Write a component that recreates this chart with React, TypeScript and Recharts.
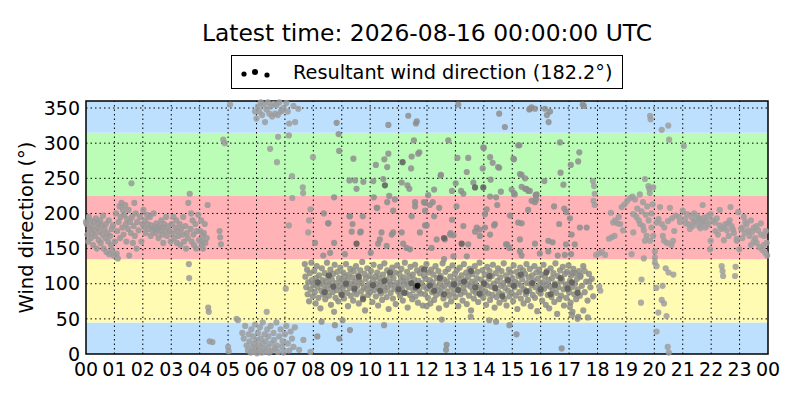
import React from "react"
import { ScatterChart, Scatter, XAxis, YAxis, ReferenceArea, ReferenceLine } from "recharts"

// hour of day (UTC) and wind direction (degrees) for every observation
const NIGHT_OBS: [number, number][] = [
  [0.0, 188], [0.02, 185], [0.05, 170], [0.08, 160], [0.1, 195], [0.12, 178], [0.15, 190], [0.18, 165],
  [0.2, 182], [0.22, 172], [0.25, 155], [0.28, 188], [0.3, 176], [0.33, 168], [0.35, 193], [0.38, 150],
  [0.4, 180], [0.42, 186], [0.45, 162], [0.48, 174], [0.5, 190], [0.52, 158], [0.55, 183], [0.58, 170],
  [0.6, 197], [0.62, 150], [0.65, 178], [0.68, 165], [0.7, 185], [0.72, 145], [0.75, 172], [0.78, 160],
  [0.8, 190], [0.82, 142], [0.85, 168], [0.88, 155], [0.9, 178], [0.92, 148], [0.95, 183], [0.98, 140],
  [1.02, 160], [1.05, 200], [1.08, 143], [1.1, 175], [1.12, 136], [1.15, 188], [1.18, 210], [1.2, 165],
  [1.22, 195], [1.25, 215], [1.28, 180], [1.3, 205], [1.32, 170], [1.35, 198], [1.38, 212], [1.4, 185],
  [1.42, 160], [1.45, 192], [1.48, 178], [1.5, 205], [1.52, 140], [1.55, 188], [1.58, 172], [1.6, 243],
  [1.62, 195], [1.65, 158], [1.68, 182], [1.7, 215], [1.72, 168], [1.75, 200], [1.78, 150], [1.8, 188],
  [1.85, 176], [1.9, 195], [1.95, 160], [1.98, 185], [2.02, 205], [2.05, 180], [2.08, 190], [2.1, 172],
  [2.15, 198], [2.18, 185], [2.2, 178], [2.25, 195], [2.28, 168], [2.3, 183], [2.35, 175], [2.38, 200],
  [2.4, 180], [2.45, 172], [2.48, 186], [2.5, 178], [2.55, 165], [2.58, 182], [2.6, 175], [2.65, 190],
  [2.68, 170], [2.7, 180], [2.72, 158], [2.75, 185], [2.8, 176], [2.82, 195], [2.85, 168], [2.9, 182],
  [2.95, 175], [2.98, 160], [3.02, 185], [3.05, 172], [3.08, 195], [3.1, 165], [3.15, 180], [3.18, 190],
  [3.2, 158], [3.22, 175], [3.25, 168], [3.3, 185], [3.32, 155], [3.35, 178], [3.4, 170], [3.42, 195],
  [3.45, 160], [3.5, 182], [3.52, 150], [3.55, 172], [3.58, 165], [3.6, 215], [3.62, 128], [3.63, 108],
  [3.65, 228], [3.68, 178], [3.7, 200], [3.72, 160], [3.75, 190], [3.78, 170], [3.8, 155], [3.85, 185],
  [3.88, 150], [3.9, 175], [3.95, 198], [3.98, 162], [4.02, 175], [4.05, 190], [4.07, 155], [4.08, 160],
  [4.1, 168], [4.12, 150], [4.15, 172], [4.18, 185], [4.2, 158], [4.25, 165], [4.28, 212], [4.3, 66],
  [4.32, 60], [4.35, 18], [4.45, 17], [4.7, 175], [4.72, 166], [4.75, 156],
]

const DAWN_HIGH: [number, number][] = [
  [4.83, 305], [4.88, 300], [5.07, 355], [5.95, 345], [6.0, 335], [6.05, 352], [6.1, 345], [6.15, 358],
  [6.2, 340], [6.25, 355], [6.3, 330], [6.35, 348], [6.4, 358], [6.45, 342], [6.5, 352], [6.55, 338],
  [6.6, 356], [6.65, 342], [6.7, 354], [6.75, 340], [6.8, 358], [6.85, 345], [6.9, 346], [6.95, 350],
  [7.05, 357], [7.1, 345], [7.15, 328], [7.3, 353], [7.36, 330], [7.47, 349], [6.76, 309], [7.14, 311],
  [6.48, 292], [6.72, 273], [7.25, 253], [7.63, 237], [7.64, 229], [7.26, 222], [7.99, 280], [7.85, 190],
  [7.14, 183], [7.82, 173], [7.9, 206], [7.03, 93],
]

const DAWN_LOW: [number, number][] = [
  [5.0, 10], [5.02, 4], [5.3, 50], [5.35, 48], [5.5, 30], [5.55, 22], [5.6, 40], [5.65, 12], [5.7, 5],
  [5.72, 28], [5.75, 18], [5.8, 2], [5.82, 35], [5.85, 10], [5.88, 25], [5.9, 3], [5.92, 15], [5.95, 42],
  [5.98, 8], [6.0, 20], [6.02, 1], [6.05, 30], [6.08, 12], [6.1, 5], [6.12, 38], [6.15, 22], [6.18, 2],
  [6.2, 15], [6.22, 45], [6.25, 8], [6.28, 28], [6.3, 3], [6.32, 18], [6.36, 60], [6.38, 35], [6.4, 10],
  [6.42, 25], [6.45, 2], [6.5, 40], [6.52, 15], [6.55, 5], [6.6, 30], [6.62, 20], [6.65, 8], [6.7, 45],
  [6.72, 12], [6.75, 3], [6.8, 25], [6.85, 35], [6.9, 10], [6.92, 18], [6.95, 2], [7.0, 28], [7.05, 40],
  [7.1, 15], [7.15, 5], [7.2, 32], [7.25, 22], [7.3, 10], [7.35, 38], [7.5, 6], [7.65, 20], [7.9, 3],
]

const DAY_BAND: [number, number][] = [
  [7.7, 128], [7.72, 110], [7.75, 95], [7.78, 120], [7.8, 85], [7.82, 102], [7.85, 75], [7.88, 115], [7.9, 92],
  [7.93, 130], [7.95, 105], [7.98, 82], [8.0, 98], [8.03, 118], [8.05, 88], [8.08, 72], [8.1, 108], [8.12, 125],
  [8.15, 95], [8.18, 80], [8.2, 112], [8.22, 100], [8.25, 65], [8.28, 90], [8.3, 122], [8.32, 105], [8.35, 85],
  [8.38, 97], [8.4, 115], [8.42, 78], [8.45, 103], [8.48, 130], [8.5, 92], [8.52, 110], [8.55, 83], [8.58, 99],
  [8.6, 120], [8.62, 70], [8.65, 106], [8.68, 88], [8.7, 114], [8.72, 95], [8.75, 127], [8.78, 80], [8.8, 101],
  [8.82, 91], [8.85, 117], [8.88, 75], [8.9, 108], [8.93, 96], [8.95, 123], [8.98, 86], [9.0, 104], [9.03, 93],
  [9.05, 116], [9.08, 79], [9.1, 110], [9.12, 98], [9.15, 128], [9.18, 87], [9.2, 105], [9.22, 68], [9.25, 113],
  [9.28, 94], [9.3, 121], [9.32, 83], [9.35, 100], [9.38, 109], [9.4, 76], [9.42, 118], [9.45, 90], [9.48, 103],
  [9.5, 125], [9.52, 85], [9.55, 97], [9.58, 112], [9.6, 72], [9.62, 106], [9.65, 119], [9.68, 89], [9.7, 101],
  [9.72, 131], [9.75, 81], [9.78, 95], [9.8, 114], [9.82, 62], [9.85, 107], [9.88, 92], [9.9, 122], [9.93, 84],
  [9.95, 99], [9.98, 111], [10.0, 88], [10.03, 118], [10.05, 96], [10.08, 74], [10.1, 105], [10.12, 127],
  [10.15, 91], [10.18, 110], [10.2, 82], [10.22, 100], [10.25, 116], [10.28, 69], [10.3, 94], [10.32, 108],
  [10.35, 124], [10.38, 86], [10.4, 102], [10.42, 77], [10.45, 113], [10.48, 97], [10.5, 129], [10.52, 90],
  [10.55, 106], [10.58, 81], [10.6, 119], [10.62, 95], [10.65, 64], [10.68, 103], [10.7, 112], [10.72, 87],
  [10.75, 99], [10.78, 123], [10.8, 79], [10.82, 108], [10.85, 93], [10.88, 116], [10.9, 71], [10.93, 101],
  [10.95, 126], [10.98, 89], [11.0, 97], [11.03, 114], [11.05, 83], [11.08, 105], [11.1, 121], [11.12, 92],
  [11.15, 76], [11.18, 109], [11.2, 99], [11.22, 130], [11.25, 87], [11.28, 103], [11.3, 117], [11.32, 66],
  [11.35, 95], [11.38, 110], [11.4, 84], [11.42, 124], [11.45, 100], [11.48, 78], [11.5, 113], [11.52, 91],
  [11.55, 106], [11.58, 127], [11.6, 82], [11.62, 98], [11.65, 119], [11.68, 73], [11.7, 104], [11.72, 90],
  [11.75, 115], [11.78, 86], [11.8, 101], [11.82, 122], [11.85, 69], [11.88, 96], [11.9, 111], [11.93, 85],
  [11.95, 107], [11.98, 128], [12.0, 93], [12.03, 80], [12.05, 116], [12.08, 99], [12.1, 105], [12.12, 72],
  [12.15, 120], [12.18, 88], [12.2, 102], [12.22, 113], [12.25, 77], [12.28, 96], [12.3, 125], [12.32, 84],
  [12.35, 108], [12.38, 91], [12.4, 118], [12.42, 65], [12.45, 100], [12.48, 111], [12.5, 86], [12.52, 94],
  [12.55, 129], [12.58, 79], [12.6, 106], [12.62, 97], [12.65, 117], [12.68, 70], [12.7, 103], [12.72, 89],
  [12.75, 121], [12.78, 83], [12.8, 99], [12.82, 110], [12.85, 75], [12.88, 95], [12.9, 126], [12.93, 87],
  [12.95, 104], [12.98, 114], [13.0, 81], [13.03, 98], [13.05, 119], [13.08, 92], [13.1, 68], [13.12, 107],
  [13.15, 123], [13.18, 85], [13.2, 101], [13.22, 112], [13.25, 76], [13.28, 94], [13.3, 128], [13.32, 88],
  [13.35, 105], [13.38, 116], [13.4, 71], [13.42, 99], [13.45, 110], [13.48, 83], [13.5, 121], [13.52, 96],
  [13.55, 62], [13.58, 103], [13.6, 114], [13.62, 90], [13.65, 79], [13.68, 125], [13.7, 100], [13.72, 87],
  [13.75, 108], [13.78, 117], [13.8, 74], [13.82, 95], [13.85, 130], [13.88, 84], [13.9, 106], [13.93, 92],
  [13.95, 119], [13.98, 80], [14.0, 102], [14.03, 113], [14.05, 89], [14.08, 70], [14.1, 98], [14.12, 124],
  [14.15, 86], [14.18, 107], [14.2, 118], [14.22, 77], [14.25, 96], [14.28, 111], [14.3, 84], [14.32, 127],
  [14.35, 100], [14.38, 66], [14.4, 93], [14.42, 115], [14.45, 81], [14.48, 104], [14.5, 122], [14.52, 88],
  [14.55, 73], [14.58, 109], [14.6, 97], [14.62, 118], [14.65, 85], [14.68, 101], [14.7, 129], [14.72, 78],
  [14.75, 94], [14.78, 112], [14.8, 69], [14.82, 105], [14.85, 90], [14.88, 120], [14.9, 82], [14.93, 99],
  [14.95, 116], [14.98, 87], [15.0, 108], [15.03, 75], [15.05, 126], [15.08, 95], [15.1, 103], [15.12, 83],
  [15.15, 117], [15.18, 64], [15.2, 100], [15.22, 111], [15.25, 88], [15.28, 123], [15.3, 79], [15.32, 97],
  [15.35, 106], [15.38, 119], [15.4, 72], [15.42, 92], [15.45, 114], [15.48, 85], [15.5, 128], [15.52, 101],
  [15.55, 77], [15.58, 109], [15.6, 90], [15.62, 121], [15.65, 68], [15.68, 98], [15.7, 112], [15.72, 84],
  [15.75, 104], [15.78, 125], [15.8, 80], [15.82, 95], [15.85, 116], [15.88, 61], [15.9, 107], [15.93, 89],
  [15.95, 120], [15.98, 99], [16.0, 86], [16.03, 113], [16.05, 76], [16.08, 102], [16.1, 127], [16.12, 93],
  [16.15, 110], [16.18, 70], [16.2, 98], [16.22, 118], [16.25, 84], [16.28, 105], [16.3, 65], [16.32, 96],
  [16.35, 122], [16.38, 81], [16.4, 108], [16.42, 91], [16.45, 115], [16.48, 74], [16.5, 100], [16.52, 129],
  [16.55, 87], [16.58, 57], [16.6, 111], [16.62, 95], [16.65, 78], [16.68, 119], [16.7, 103], [16.72, 83],
  [16.75, 106], [16.78, 124], [16.8, 92], [16.82, 69], [16.85, 114], [16.88, 99], [16.9, 80], [16.93, 117],
  [16.95, 97], [16.98, 126], [17.0, 88], [17.03, 104], [17.05, 73], [17.08, 112], [17.1, 95], [17.12, 60],
  [17.15, 121], [17.18, 85], [17.2, 100], [17.22, 115], [17.25, 78], [17.28, 107], [17.3, 92], [17.32, 53],
  [17.35, 118], [17.38, 83], [17.4, 110], [17.45, 97], [17.5, 125], [17.55, 88], [17.6, 103], [17.65, 76],
  [17.7, 114], [17.75, 95], [17.8, 107], [17.85, 82],
]

const DAY_DARK: [number, number][] = [
  [8.15, 102], [8.4, 88], [8.55, 112], [8.7, 96], [9.0, 84], [9.15, 100], [9.45, 93], [9.6, 110], [9.75, 78],
  [10.1, 98], [10.35, 90], [10.5, 104], [10.7, 116], [11.0, 92], [11.2, 87], [11.45, 101], [11.6, 95],
  [11.9, 120], [12.1, 97], [12.25, 90], [12.45, 108], [12.6, 85], [12.95, 99], [13.1, 91], [13.3, 103],
  [13.55, 118], [13.7, 95], [13.85, 86], [14.0, 100], [14.2, 111], [14.4, 94], [14.65, 82], [14.85, 105],
  [15.05, 97], [15.3, 113], [15.5, 89], [15.7, 101], [16.0, 92], [16.2, 116], [16.35, 85], [16.5, 98],
  [16.7, 108], [16.95, 93], [17.1, 102], [17.3, 87], [13.69, 237], [13.98, 237], [10.52, 240], [11.14, 273],
  [12.6, 165], [13.22, 157], [9.52, 157],
]

const DAY_SCATTER: [number, number][] = [
  [8.82, 329], [8.89, 313], [8.91, 289], [9.41, 278], [9.27, 247], [9.47, 247], [9.76, 245], [9.52, 235],
  [10.11, 246], [10.46, 249], [10.2, 269], [10.5, 277], [10.64, 285], [10.6, 266], [10.64, 326], [8.73, 223],
  [10.13, 223], [10.23, 208], [10.67, 225], [10.87, 220], [10.6, 216], [11.11, 244], [11.31, 240], [11.38, 235],
  [11.46, 281], [11.34, 339], [11.64, 331], [11.61, 328], [11.54, 304], [11.69, 285], [11.44, 264], [8.37, 200],
  [9.27, 196], [9.74, 196], [9.38, 185], [9.35, 174], [9.67, 174], [8.53, 186], [8.06, 158], [8.73, 158],
  [10.4, 173], [10.76, 170], [10.34, 163], [10.28, 157], [10.58, 154], [11.11, 173], [11.16, 157], [11.46, 196],
  [11.58, 216], [11.75, 173], [11.93, 183], [11.28, 151], [11.4, 149], [10.02, 144], [9.11, 142], [8.35, 140],
  [8.59, 144], [8.52, 186], [9.29, 196], [9.65, 173], [10.81, 204], [10.25, 208], [10.81, 173],
  [13.1, 355], [14.54, 342], [14.74, 323], [15.62, 349], [12.75, 304], [13.98, 294], [15.25, 297], [13.07, 279],
  [13.45, 279], [14.22, 280], [14.31, 272], [13.96, 264], [14.54, 265], [15.06, 277], [13.4, 259], [15.27, 256],
  [12.48, 254], [13.01, 243], [13.63, 244], [14.24, 248], [13.2, 232], [13.28, 228], [12.88, 232], [12.25, 234],
  [14.6, 231], [14.98, 234], [15.09, 227], [15.33, 238], [15.45, 235], [15.56, 232], [15.86, 227], [14.22, 224],
  [14.43, 223], [14.47, 212], [12.04, 226], [12.2, 216], [11.93, 215], [12.43, 208], [13.04, 210], [14.1, 206],
  [14.04, 199], [14.92, 197], [15.56, 205], [15.8, 216], [12.25, 196], [11.93, 204], [12.88, 191], [13.28, 182],
  [13.75, 180], [14.04, 180], [14.36, 183], [15.21, 187], [15.33, 186], [11.99, 183], [12.83, 172], [12.93, 169],
  [13.69, 174], [13.86, 168], [14.22, 170], [12.34, 163], [13.45, 156], [12.16, 151], [14.1, 151], [14.78, 156],
  [14.9, 151], [15.27, 146], [15.33, 140], [13.4, 139], [12.93, 139], [12.6, 135], [14.5, 266], [15.33, 255],
  [15.45, 250], [15.04, 278], [15.5, 235], [15.62, 232], [15.06, 229], [15.83, 226], [12.49, 255], [12.1, 212],
  [11.89, 216], [11.58, 210], [12.63, 163], [12.81, 170], [13.86, 177], [14.39, 185], [14.82, 156], [15.27, 163],
  [15.68, 218], [15.21, 297], [15.6, 348], [14.0, 293], [11.73, 287],
  [15.68, 351], [15.8, 349], [16.15, 349], [16.22, 340], [16.28, 330], [16.33, 345], [17.48, 355], [17.52, 353],
  [16.68, 301], [17.36, 287], [17.32, 274], [17.06, 269], [16.7, 258], [16.13, 246], [16.8, 241], [15.83, 226],
  [15.84, 220], [16.47, 210], [16.83, 207], [16.9, 202], [16.65, 185], [17.03, 193], [17.38, 180], [17.62, 180],
  [17.09, 170], [16.89, 156], [17.2, 156], [15.8, 157], [16.27, 161], [16.42, 159], [16.27, 146], [16.6, 140],
  [16.85, 141], [17.07, 142], [15.97, 143], [17.12, 115], [17.4, 112], [17.55, 118], [17.71, 103],
  [8.29, 46], [9.03, 48], [8.76, 41], [9.29, 34], [8.14, 25], [8.91, 22], [10.49, 41], [8.73, 60], [13.54, 53],
  [14.19, 48], [14.43, 46], [14.9, 41], [15.15, 28], [12.69, 13], [12.67, 6], [12.52, 49], [16.74, 8], [17.03, 67],
  [17.1, 55], [17.3, 50], [17.5, 62], [17.66, 52], [11.99, 68],
]

const EVENING_OBS: [number, number][] = [
  [17.88, 239], [17.9, 228], [17.86, 218], [17.9, 212], [17.84, 246], [17.95, 141], [18.05, 143], [18.15, 145],
  [18.27, 141], [18.06, 96], [18.1, 90], [18.47, 201], [18.55, 187], [18.62, 190], [18.7, 186], [18.8, 185],
  [18.4, 164], [18.5, 166], [18.6, 168], [18.85, 209], [18.95, 213], [19.05, 218], [19.15, 222], [19.23, 224],
  [19.32, 220], [19.26, 173], [19.2, 142], [19.26, 199], [18.75, 195], [18.9, 176], [19.37, 195], [19.45, 190],
  [19.5, 185], [19.55, 203], [19.6, 182], [19.63, 176], [19.73, 168], [19.67, 161], [19.63, 136], [19.55, 106],
  [19.53, 73], [19.67, 249], [19.79, 239], [19.96, 237], [19.82, 235], [19.49, 227], [19.84, 229], [19.6, 216],
  [19.94, 213], [19.4, 207], [19.7, 198], [19.8, 190], [19.9, 180], [19.85, 161], [19.96, 168], [19.85, 339],
  [19.87, 334], [19.75, 210], [19.9, 200], [20.08, 187], [20.15, 192], [20.26, 185], [20.2, 209], [20.02, 146],
  [20.02, 137], [20.02, 130], [20.08, 125], [20.4, 122], [20.5, 116], [20.67, 113], [20.07, 94], [20.29, 97],
  [20.26, 77], [20.34, 72], [20.14, 59], [20.43, 54], [20.08, 32], [20.47, 10], [20.51, 2], [20.26, 319],
  [20.49, 325], [20.52, 305], [20.34, 161], [20.45, 158], [20.6, 155], [20.66, 161], [20.55, 208], [20.48, 189],
  [20.62, 193], [20.75, 197], [20.87, 195], [20.35, 180], [20.7, 175], [20.9, 188], [20.3, 168], [21.0, 204],
  [21.04, 296], [21.08, 192], [21.15, 199], [21.2, 185], [21.3, 195], [21.38, 188], [21.45, 190], [21.5, 197],
  [21.55, 183], [21.6, 192], [21.65, 186], [21.7, 212], [21.75, 194], [21.8, 180], [21.84, 189], [21.9, 184],
  [21.98, 199], [21.98, 161], [21.96, 149], [21.25, 178], [21.4, 200], [21.58, 193], [21.72, 188], [21.88, 196],
  [21.1, 186], [21.35, 182], [21.62, 179], [22.05, 190], [22.13, 187], [22.24, 170], [22.3, 183], [22.37, 125],
  [22.4, 118], [22.42, 111], [22.45, 180], [22.5, 185], [22.55, 176], [22.62, 168], [22.68, 209], [22.72, 182],
  [22.77, 177], [22.84, 111], [22.86, 124], [22.9, 164], [22.95, 202], [22.99, 149], [22.9, 161], [22.2, 193],
  [22.35, 178], [22.6, 186], [22.8, 172], [22.15, 175], [22.45, 162], [22.65, 190], [22.3, 205], [23.05, 178],
  [23.1, 180], [23.18, 172], [23.25, 185], [23.3, 176], [23.35, 168], [23.4, 190], [23.45, 174], [23.5, 180],
  [23.55, 165], [23.6, 158], [23.65, 176], [23.7, 152], [23.75, 170], [23.8, 148], [23.86, 168], [23.9, 144],
  [23.95, 158], [23.97, 140], [23.85, 155], [23.5, 160], [23.2, 188], [23.15, 195], [23.6, 182], [23.75, 186],
  [23.92, 175], [23.4, 155], [23.1, 165],
]

const RESULTANT: [number, number][] = [[11.67, 97]]

const HOUR_TICKS = [0, 1, 2, 3, 4, 5, 6, 7, 8, 9, 10, 11, 12, 13, 14, 15, 16, 17, 18, 19, 20, 21, 22, 23, 24]
const DIR_TICKS = [0, 50, 100, 150, 200, 250, 300, 350]
// compass sectors: N, NE-E-SE, S, SW-W-NW, N
const SECTOR_BOUNDS = [0, 45, 135, 225, 315, 360]
const SECTOR_COLORS = ["#bde0fe", "#fffbb3", "#ffb3b7", "#bbfdb6", "#bde0fe"]

const TITLE = "Latest time: 2026-08-16 00:00:00 UTC"
const LEGEND_LABEL = "Resultant wind direction (182.2°)"

const FONT = "'DejaVu Sans', sans-serif"

const toPoints = (rows: [number, number][]) => rows.map(([h, d]) => ({ h, d }))

const dot = (fill: string, r = 3.1) => (props: any) =>
  <circle cx={props.cx} cy={props.cy} r={r} fill={fill} fillOpacity={0.85} />

export default function App() {
  const tick = { fill: "#000", fontSize: 19, fontFamily: FONT }
  return (
    <div style={{ position: "absolute", left: 0, top: 0, width: 800, height: 400, background: "#fff", fontFamily: FONT }}>
      <div style={{ position: "absolute", left: 86, width: 682, top: 20, textAlign: "center", fontSize: 23.4, lineHeight: "27px", color: "#000" }}>
        {TITLE}
      </div>
      <div
        style={{
          position: "absolute", left: 231, top: 55, width: 390, height: 32, border: "1px solid #000",
          background: "#fff", display: "flex", alignItems: "center", fontSize: 19.3, color: "#000",
        }}
      >
        <svg width={44} height={32} style={{ marginLeft: 4 }}>
          <circle cx={8} cy={18} r={2.6} fill="#000" />
          <circle cx={19} cy={16} r={3} fill="#000" />
          <circle cx={31} cy={19} r={2.6} fill="#000" />
        </svg>
        <span style={{ marginLeft: 13 }}>{LEGEND_LABEL}</span>
      </div>
      <ScatterChart width={800} height={400} margin={{ top: 101, right: 32, bottom: 16, left: 26 }}>
        {SECTOR_COLORS.map((c, i) => (
          <ReferenceArea key={`s${i}`} x1={0} x2={24} y1={SECTOR_BOUNDS[i]} y2={SECTOR_BOUNDS[i + 1]} fill={c} fillOpacity={1} stroke="none" />
        ))}
        {HOUR_TICKS.slice(1, -1).map((h) => (
          <ReferenceLine key={`gx${h}`} x={h} stroke="#000" strokeDasharray="1.5 3" strokeWidth={1} />
        ))}
        {DIR_TICKS.slice(1).map((d) => (
          <ReferenceLine key={`gy${d}`} y={d} stroke="#000" strokeDasharray="1.5 3" strokeWidth={1} />
        ))}
        <XAxis
          type="number" dataKey="h" domain={[0, 24]} ticks={HOUR_TICKS} interval={0} height={30}
          tickFormatter={(v: number) => String(v % 24).padStart(2, "0")}
          tick={tick} tickLine={false} axisLine={false} tickSize={4} tickMargin={5}
        />
        <YAxis
          type="number" dataKey="d" domain={[0, 360]} ticks={DIR_TICKS} interval={0} width={60}
          tick={tick} tickLine={false} axisLine={false} tickSize={3} tickMargin={3}
          label={{ value: "Wind direction (°)", angle: -90, position: "insideLeft", offset: 0, style: { textAnchor: "middle", fontSize: 19.5, fill: "#000", fontFamily: FONT } }}
        />
        <Scatter data={toPoints(NIGHT_OBS)} shape={dot("#999999")} isAnimationActive={false} />
        <Scatter data={toPoints(DAWN_HIGH)} shape={dot("#9c9c9c")} isAnimationActive={false} />
        <Scatter data={toPoints(DAWN_LOW)} shape={dot("#9c9c9c")} isAnimationActive={false} />
        <Scatter data={toPoints(EVENING_OBS)} shape={dot("#9e9e9e")} isAnimationActive={false} />
        <Scatter data={toPoints(DAY_SCATTER)} shape={dot("#8e8e8e")} isAnimationActive={false} />
        <Scatter data={toPoints(DAY_BAND)} shape={dot("#8a8a8a")} isAnimationActive={false} />
        <Scatter data={toPoints(DAY_DARK)} shape={dot("#5c5c5c")} isAnimationActive={false} />
        <Scatter data={toPoints(RESULTANT)} shape={dot("#000000", 3)} isAnimationActive={false} />
        <ReferenceArea x1={0} x2={24} y1={0} y2={360} fill="none" stroke="#000" strokeWidth={1.5} />
      </ScatterChart>
    </div>
  )
}
